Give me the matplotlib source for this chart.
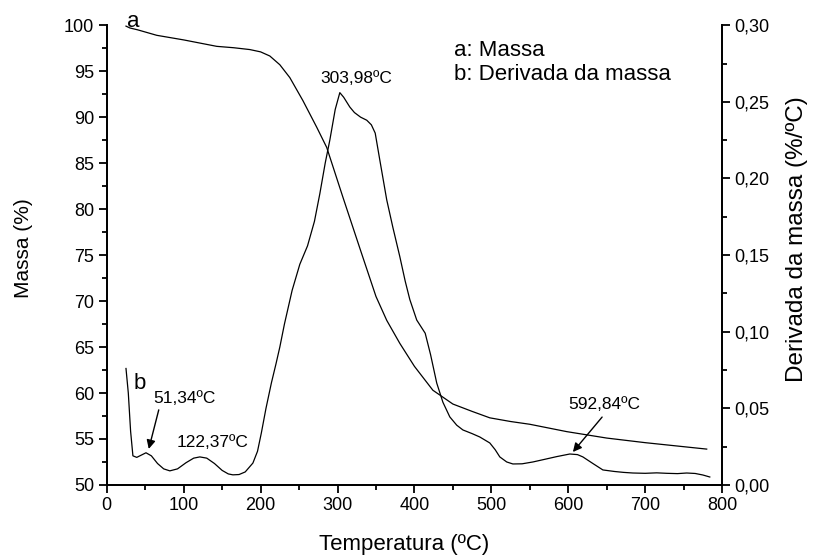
import matplotlib.pyplot as plt
from matplotlib.ticker import MultipleLocator, FuncFormatter

plt.rcParams['font.family'] = ['Liberation Sans', 'DejaVu Sans']

# Mass curve (a)
temp_a = [25, 30, 40, 65, 100, 143, 165, 186, 200, 212, 225, 238, 255, 273, 286,
          307, 330, 350, 364, 381, 400, 424, 450, 475, 498, 525, 550, 598, 650,
          700, 780]
massa = [99.9, 99.7, 99.5, 98.9, 98.4, 97.7, 97.55, 97.35, 97.1, 96.65, 95.7, 94.3,
         91.8, 88.9, 86.7, 81.3, 75.5, 70.5, 67.9, 65.4, 62.9, 60.3, 58.8, 58.0,
         57.3, 56.9, 56.6, 55.8, 55.1, 54.6, 53.9]

# Derivative curve (b)
temp_b = [25, 28, 31, 34, 39, 45, 51, 58, 66, 74, 82, 92, 103, 113, 121, 130,
          140, 150, 158, 164, 172, 180, 190, 196, 201, 207, 214, 220, 225, 231,
          241, 251, 261, 270, 277, 284, 290, 297, 303, 308, 316, 322, 330, 338,
          344, 349, 355, 364, 372, 381, 388, 394, 403, 414, 421, 429, 437, 446,
          455, 463, 475, 485, 498, 505, 511, 520, 528, 540, 554, 570, 585, 602,
          612, 619, 632, 645, 660, 672, 684, 700, 715, 728, 742, 754, 765, 775, 784]
deriv = [0.076, 0.060, 0.035, 0.019, 0.018, 0.0195, 0.021, 0.019, 0.014, 0.0105,
         0.0092, 0.0105, 0.0145, 0.0175, 0.0183, 0.0175, 0.014, 0.0095, 0.0072,
         0.0066, 0.0068, 0.0085, 0.0143, 0.022, 0.034, 0.050, 0.0665, 0.079,
         0.090, 0.105, 0.127, 0.144, 0.156, 0.172, 0.19, 0.21, 0.225, 0.245,
         0.256, 0.253, 0.2466, 0.243, 0.240, 0.238, 0.235, 0.2296, 0.212, 0.186,
         0.168, 0.149, 0.133, 0.121, 0.1076, 0.099, 0.085, 0.0665, 0.054, 0.0444,
         0.039, 0.0359, 0.0335, 0.0313, 0.0274, 0.023, 0.0183, 0.015, 0.0137,
         0.0138, 0.015, 0.0168, 0.0185, 0.0202, 0.0198, 0.0183, 0.014, 0.0098,
         0.0088, 0.0082, 0.0078, 0.0076, 0.0079, 0.0076, 0.0074, 0.0078, 0.0075,
         0.0065, 0.0052]

comma = FuncFormatter(lambda v, p: f"{v:.0f}")
comma2 = FuncFormatter(lambda v, p: f"{v:.2f}".replace('.', ','))

fig = plt.figure(figsize=(8.15, 5.6), dpi=100)
ax = fig.add_axes([0.131, 0.134, 0.755, 0.821])
ax2 = ax.twinx()

ax.plot(temp_a, massa, color='black', lw=0.9)
ax2.plot(temp_b, deriv, color='black', lw=0.9)

ax.set_xlim(0, 800)
ax.set_ylim(50, 100)
ax2.set_ylim(0, 0.30)

for a in (ax, ax2):
    a.spines['top'].set_visible(False)
    for s in a.spines.values():
        s.set_linewidth(1.3)
ax.xaxis.set_major_locator(MultipleLocator(100))
ax.xaxis.set_minor_locator(MultipleLocator(50))
ax.yaxis.set_major_locator(MultipleLocator(5))
ax.yaxis.set_minor_locator(MultipleLocator(2.5))
ax2.yaxis.set_major_locator(MultipleLocator(0.05))
ax2.yaxis.set_minor_locator(MultipleLocator(0.025))
ax.yaxis.set_major_formatter(comma)
ax2.yaxis.set_major_formatter(comma2)
for a in (ax, ax2):
    a.tick_params(which='major', direction='out', length=6, width=1.3,
                  labelsize=13, pad=3)
    a.tick_params(which='minor', direction='out', length=3.8, width=1.3)

ax.set_xlabel('Temperatura (ºC)', fontsize=16)
ax.xaxis.set_label_coords(0.483, -0.106)
ax.set_ylabel('Massa (%)', fontsize=15)
ax.yaxis.set_label_coords(-0.12, 0.515)
ax2.set_ylabel('Derivada da massa (%/ºC)', fontsize=17.5)
ax2.yaxis.set_label_coords(1.104, 0.535)

fs = 12.5
ax.text(26, 100.4, 'a', fontsize=16, ha='left', va='center')
ax2.text(35, 0.0665, 'b', fontsize=16, ha='left', va='center')
ax.text(325, 94.2, '303,98ºC', fontsize=fs, ha='center', va='center')
ax.text(451, 97.3, 'a: Massa', fontsize=16, ha='left', va='center')
ax.text(451, 94.6, 'b: Derivada da massa', fontsize=16, ha='left', va='center')
ax2.text(60, 0.0567, '51,34ºC', fontsize=fs, ha='left', va='center')
ax2.text(138, 0.0274, '122,37ºC', fontsize=fs, ha='center', va='center')
ax2.text(647, 0.0528, '592,84ºC', fontsize=fs, ha='center', va='center')

arrow = dict(arrowstyle='-|>', color='black', lw=1, shrinkA=0, shrinkB=0,
             mutation_scale=13)
ax2.annotate('', xy=(54.6, 0.0235), xytext=(67.6, 0.049), arrowprops=arrow)
ax2.annotate('', xy=(606, 0.0215), xytext=(644, 0.0443), arrowprops=arrow)

fig.savefig('out.png', dpi=100)
